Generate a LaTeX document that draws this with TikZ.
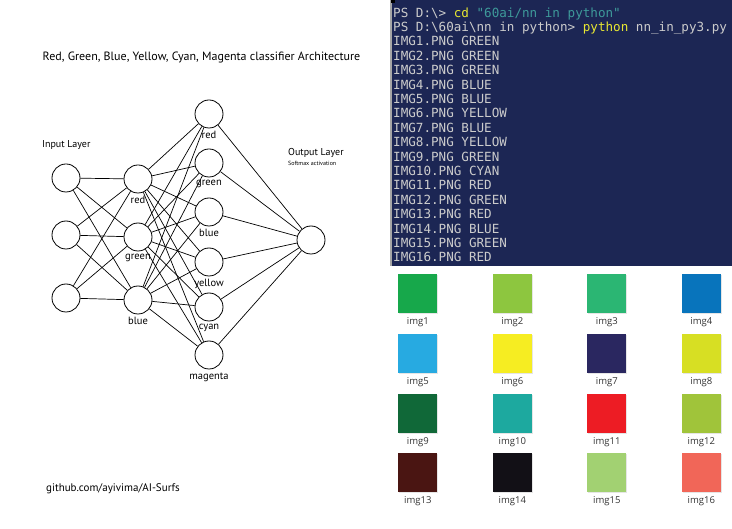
\documentclass[tikz,border=0pt]{standalone}
\usepackage{fontspec}
\usetikzlibrary{positioning}
\newfontfamily\nnfont{PT Sans}
\newfontfamily\termfont{DejaVu Sans Mono}
\newfontfamily\swfont{Open Sans}
\definecolor{termbg}{HTML}{1C2654}
\definecolor{termtxt}{HTML}{CCCCCC}
\definecolor{termyel}{HTML}{E8E832}
\definecolor{termteal}{HTML}{3E9A9A}
\definecolor{swA}{HTML}{17A84B}
\definecolor{swB}{HTML}{8DC63F}
\definecolor{swC}{HTML}{2BB673}
\definecolor{swD}{HTML}{0874BC}
\definecolor{swE}{HTML}{27AAE1}
\definecolor{swF}{HTML}{F6ED22}
\definecolor{swG}{HTML}{2A2760}
\definecolor{swH}{HTML}{D7DF23}
\definecolor{swI}{HTML}{106838}
\definecolor{swJ}{HTML}{1DA99F}
\definecolor{swK}{HTML}{ED1C24}
\definecolor{swL}{HTML}{A0C43A}
\definecolor{swM}{HTML}{4A1512}
\definecolor{swN}{HTML}{121016}
\definecolor{swO}{HTML}{A2D172}
\definecolor{swP}{HTML}{F16658}

\begin{document}
\begin{tikzpicture}[x=1pt, y=-1pt,
  neuron/.style={draw, circle, minimum size=28pt, inner sep=0pt, line width=0.8pt},
  wire/.style={line width=0.7pt},
  lbl/.style={inner sep=0pt, font=\nnfont\fontsize{10.5}{12}\selectfont},
  termline/.style={anchor=base west, inner sep=0pt, text=termtxt, font=\termfont\fontsize{12.6}{14}\selectfont},
  swatch/.style={minimum size=39pt, inner sep=0pt},
  swlabel/.style={inner sep=0pt, font=\swfont\fontsize{9.5}{11}\selectfont, text=black!80}]
\useasboundingbox (0,0) rectangle (732,529);

\node [lbl, font=\nnfont\fontsize{12}{14}\selectfont] (title) at (201.5,58) {Red, Green, Blue, Yellow, Cyan, Magenta classifier Architecture};
\node [lbl, anchor=west, font=\nnfont\fontsize{10}{12}\selectfont] (inlayer) at (42,145) {Input Layer};
\node [lbl, anchor=west, font=\nnfont\fontsize{10}{12}\selectfont] (outlayer) at (288,153) {Output Layer};
\node [lbl, anchor=west, font=\nnfont\fontsize{6}{7}\selectfont] (softmax) at (288,163) {Softmax activation};
\node [lbl, anchor=west, font=\nnfont\fontsize{11}{13}\selectfont] (github) at (46,489) {github.com/ayivima/AI-Surfs};

\node [neuron] (i1) at (66,178) {};
\node [neuron] (i2) at (66,235) {};
\node [neuron] (i3) at (66,298) {};
\node [neuron] (h1) at (138,179) {};
\node [neuron] (h2) at (138,237) {};
\node [neuron] (h3) at (138,300) {};
\node [neuron] (c1) at (209,114) {};
\node [neuron] (c2) at (209,163) {};
\node [neuron] (c3) at (209,212) {};
\node [neuron] (c4) at (209,262) {};
\node [neuron] (c5) at (209,307) {};
\node [neuron] (c6) at (209,355) {};
\node [neuron] (out) at (311,240) {};

\foreach \a in {i1,i2,i3} \foreach \b in {h1,h2,h3} \draw [wire] (\a) -- (\b);
\foreach \a in {h1,h2,h3} \foreach \b in {c1,c2,c3,c4,c5,c6} \draw [wire] (\a) -- (\b);
\foreach \a in {c1,c2,c3,c4,c5,c6} \draw [wire] (\a) -- (out);

\node [lbl, below=3pt of h1] (h1l) {red};
\node [lbl, below=3pt of h2] (h2l) {green};
\node [lbl, below=3pt of h3] (h3l) {blue};
\node [lbl, below=3pt of c1] (c1l) {red};
\node [lbl, below=3pt of c2] (c2l) {green};
\node [lbl, below=3pt of c3] (c3l) {blue};
\node [lbl, below=3pt of c4] (c4l) {yellow};
\node [lbl, below=3pt of c5] (c5l) {cyan};
\node [lbl, below=3pt of c6] (c6l) {magenta};

\fill [termbg] (391,0) rectangle (732,266);
\draw [gray!70, line width=1.5pt] (391,0) -- (391,266);
\fill [black] (391,0) rectangle (395,3);
\node [termline] (t0) at (393,17.2) {PS D:\textbackslash> \textcolor{termyel}{cd} \textcolor{termteal}{"60ai/nn in python"}};
\node [termline] (t1) at (393,31.6) {PS D:\textbackslash60ai\textbackslash nn in python> \textcolor{termyel}{python} nn\_in\_py3.py};
\foreach \n/\c [count=\k] in {1/GREEN,2/GREEN,3/GREEN,4/BLUE,5/BLUE,6/YELLOW,7/BLUE,8/YELLOW,9/GREEN,10/CYAN,11/RED,12/GREEN,13/RED,14/BLUE,15/GREEN,16/RED}
  \node [termline] (r\n) at (393,31.6+14.4*\k) {IMG\n.PNG \c};

\foreach \c [count=\k] in {swA,swB,swC,swD,swE,swF,swG,swH,swI,swJ,swK,swL,swM,swN,swO,swP} {
  \pgfmathtruncatemacro\col{mod(\k-1,4)}
  \pgfmathtruncatemacro\row{div(\k-1,4)}
  \fill [black!10] (399.3+94.5*\col,275.3+59.7*\row) rectangle ++(39,39);
  \node [swatch, fill=\c] (sq\k) at (417.8+94.5*\col,293.8+59.7*\row) {};
  \node [swlabel, below=4pt of sq\k] (sl\k) {img\k};
}
\end{tikzpicture}
\end{document}
